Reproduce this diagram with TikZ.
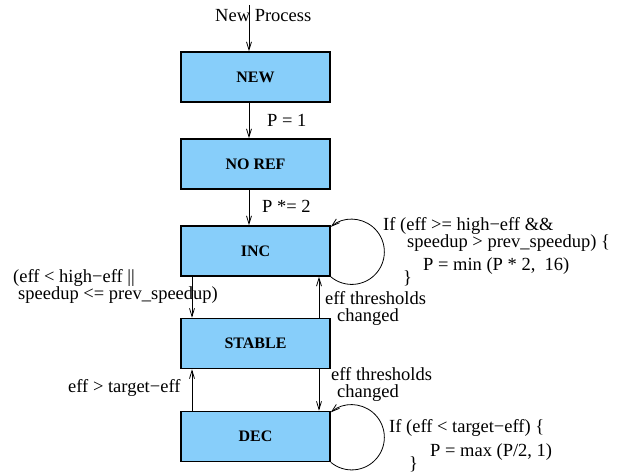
\documentclass[tikz,border=0pt]{standalone}
\usepackage{fontspec}
\setmainfont{Liberation Serif}
\usetikzlibrary{arrows.meta}
\definecolor{boxblue}{RGB}{135,206,250}

\begin{document}
\begin{tikzpicture}[x=1pt, y=1pt, >={Straight Barb[length=8pt,width=5pt]},
  font=\fontsize{18.5}{20}\selectfont]
\tikzstyle{statebox}=[draw=black, line width=1.6pt, fill=boxblue, minimum width=149pt,
  minimum height=50pt, inner sep=0pt, font=\fontsize{16}{18}\selectfont\bfseries];
\tikzstyle{lbl}=[anchor=base west, inner sep=0pt];
\tikzstyle{flow}=[->, line width=0.8pt];
\useasboundingbox (0,0) rectangle (619,473);
% states
\path (255.5,396) node[statebox] (new) {NEW};
\path (255.5,309) node[statebox] (noref) {NO REF};
\path (255.5,222) node[statebox] (inc) {INC};
\path (255.5,129.5) node[statebox] (stable) {STABLE};
\path (255.5,36.5) node[statebox] (dec) {DEC};
% labels
\path (215,451) node[lbl] (start) {New Process};
\path (267,346) node[lbl] (p1) {P = 1};
\path (262,260) node[lbl] (p2) {P *= 2};
\path (383,242) node[lbl] (incA) {If (eff >= high−eff \&\&};
\path (407,225) node[lbl] (incB) {speedup > prev\_speedup) \{};
\path (423,202) node[lbl] (incC) {P = min (P * 2,~~16)};
\path (403,189) node[lbl] (incD) {\}};
\path (13,190) node[lbl] (downA) {(eff < high−eff ||};
\path (18,173) node[lbl] (downB) {speedup <= prev\_speedup)};
\path (325,168) node[lbl] (thrA) {eff thresholds};
\path (337,151) node[lbl] (thrB) {changed};
\path (68,80) node[lbl] (upC) {eff > target−eff};
\path (331,92) node[lbl] (thrC) {eff thresholds};
\path (337,75) node[lbl] (thrD) {changed};
\path (389,40) node[lbl] (decA) {If (eff < target−eff) \{};
\path (430,16) node[lbl] (decB) {P = max (P/2, 1)};
\path (409,3) node[lbl] (decC) {\}};
% connectors
\coordinate (in) at (249,468);
\coordinate (lft) at (192,0);
\coordinate (rgt) at (319,0);
\draw[flow] (in) -- (new.north -| in);
\draw[flow] (new.south -| in) -- (noref.north -| in);
\draw[flow] (noref.south -| in) -- (inc.north -| in);
\draw[flow] (inc.south -| lft) -- (stable.north -| lft);
\draw[flow] (stable.north -| rgt) -- (inc.south -| rgt);
\draw[flow] (stable.south -| rgt) -- (dec.north -| rgt);
\draw[flow] (dec.north -| lft) -- (stable.south -| lft);
\draw[flow] (inc.south east) arc[start angle=-130, end angle=130, radius=32.6];
\draw[flow] (dec.south east) arc[start angle=-130, end angle=130, radius=32.6];
\end{tikzpicture}
\end{document}
